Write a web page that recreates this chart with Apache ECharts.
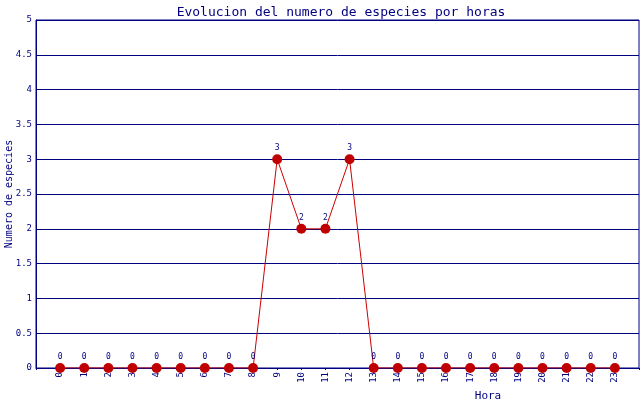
<!DOCTYPE html>
<html>
<head>
<meta charset="utf-8">
<script src="https://cdn.jsdelivr.net/npm/echarts@6/dist/echarts.min.js"></script>
<style>
  html, body { margin: 0; padding: 0; background: #fff; }
  #chart { width: 640px; height: 400px; }
</style>
</head>
<body>
<div id="chart"></div>
<script>
var horas = [0, 1, 2, 3, 4, 5, 6, 7, 8, 9, 10, 11, 12, 13, 14, 15, 16, 17, 18, 19, 20, 21, 22, 23];
var especies = [0, 0, 0, 0, 0, 0, 0, 0, 0, 3, 2, 2, 3, 0, 0, 0, 0, 0, 0, 0, 0, 0, 0, 0];
var yTicks = [0, 0.5, 1, 1.5, 2, 2.5, 3, 3.5, 4, 4.5, 5];

var navy = '#000080';
var mono = '"DejaVu Sans Mono", monospace';

var chart = echarts.init(document.getElementById('chart'));

chart.setOption({
  animation: false,
  title: [{
    text: 'Evolucion del numero de especies por horas',
    left: 336,
    top: 1,
    textAlign: 'center',
    textStyle: { color: navy, fontFamily: mono, fontSize: 13, fontWeight: 'normal' }
  }, {
    text: 'Hora',
    left: 483,
    top: 386,
    textAlign: 'center',
    textStyle: { color: navy, fontFamily: mono, fontSize: 11, fontWeight: 'normal' }
  }],
  grid: {
    left: 36, right: 1, top: 20, bottom: 32,
    containLabel: false,
    outerBoundsMode: 'none',
    show: true, borderColor: navy, borderWidth: 1
  },
  xAxis: {
    type: 'value',
    min: -1, max: 24, interval: 1,
    axisLine: { onZero: false, lineStyle: { color: navy } },
    axisTick: { show: true, length: 2, lineStyle: { color: navy } },
    splitLine: { show: false },
    axisLabel: {
      rotate: 90,
      color: navy, fontFamily: mono, fontSize: 9, margin: 4,
      formatter: function (v) { return horas.indexOf(v) >= 0 ? String(v) : ''; }
    }
  },
  yAxis: {
    type: 'value',
    min: 0, max: 5, interval: 0.5,
    name: 'Numero de especies',
    nameLocation: 'middle',
    nameGap: 22,
    nameMoveOverlap: false,
    nameTextStyle: { color: navy, fontFamily: mono, fontSize: 10 },
    axisLine: { show: true, onZero: false, lineStyle: { color: navy } },
    axisTick: { show: false },
    splitLine: { lineStyle: { color: navy, width: 1 } },
    axisLabel: {
      color: navy, fontFamily: mono, fontSize: 9, margin: 4,
      formatter: function (v) { return yTicks.indexOf(v) >= 0 ? String(v) : ''; }
    }
  },
  series: [{
    type: 'line',
    data: horas.map(function (h, i) { return [h, especies[i]]; }),
    symbol: 'circle',
    symbolSize: 10,
    lineStyle: { color: '#cc0000', width: 1 },
    itemStyle: { color: '#c00000' },
    label: {
      show: true, position: 'top', distance: 2,
      color: navy, fontFamily: mono, fontSize: 8
    }
  }]
});
</script>
</body>
</html>
